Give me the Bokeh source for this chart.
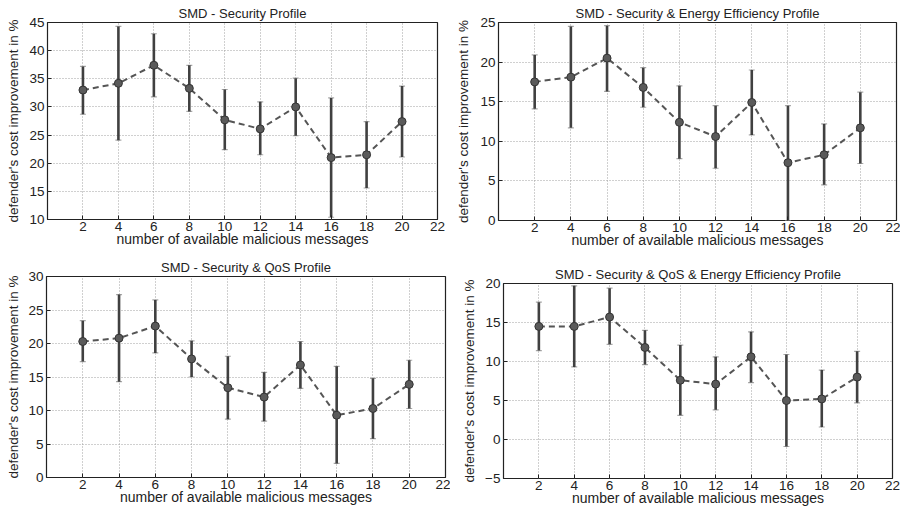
from bokeh.plotting import figure
from bokeh.layouts import column, row
from bokeh.models import Range1d, ColumnDataSource, Whisker, TeeHead, FixedTicker
from bokeh.embed import file_html
from bokeh.resources import INLINE

# ---- data ----
messages = [2, 4, 6, 8, 10, 12, 14, 16, 18, 20]
x_ticks = [2, 4, 6, 8, 10, 12, 14, 16, 18, 20, 22]

titles = ["SMD - Security Profile",
          "SMD - Security & Energy Efficiency Profile",
          "SMD - Security & QoS Profile",
          "SMD - Security & QoS & Energy Efficiency Profile"]

sec_mean = [33.0, 34.2, 37.4, 33.3, 27.7, 26.1, 30.0, 21.0, 21.5, 27.4]
sec_low = [28.7, 24.1, 31.8, 29.2, 22.4, 21.5, 24.9, 10.4, 15.6, 21.1]
sec_high = [37.2, 44.3, 43.0, 37.4, 33.1, 30.9, 35.1, 31.6, 27.4, 33.7]

se_mean = [17.5, 18.1, 20.5, 16.8, 12.4, 10.6, 14.9, 7.3, 8.3, 11.7]
se_low = [14.1, 11.7, 16.3, 14.3, 7.8, 6.6, 10.8, 0.0, 4.5, 7.2]
se_high = [20.9, 24.5, 24.6, 19.3, 17.0, 14.5, 19.0, 14.5, 12.2, 16.2]

sq_mean = [20.3, 20.8, 22.6, 17.7, 13.4, 12.0, 16.8, 9.3, 10.3, 13.9]
sq_low = [17.3, 14.3, 18.6, 15.0, 8.7, 8.4, 13.3, 2.1, 5.8, 10.3]
sq_high = [23.4, 27.3, 26.5, 20.4, 18.1, 15.7, 20.3, 16.6, 14.8, 17.5]

sqe_mean = [14.5, 14.5, 15.7, 11.8, 7.6, 7.1, 10.6, 5.0, 5.2, 8.0]
sqe_low = [11.4, 9.3, 12.2, 9.6, 3.1, 3.8, 7.3, -0.9, 1.6, 4.7]
sqe_high = [17.6, 19.7, 19.4, 14.0, 12.1, 10.6, 13.8, 10.9, 8.9, 11.3]

y_limits = [(10, 45), (0, 25), (0, 30), (-5, 20)]
y_steps = [5, 5, 5, 5]

FONT = "Liberation Sans"


def panel(title, mean, low, high, ylim, ystep, w, h, bl, bb, bt, br, ystand):
    p = figure(width=w, height=h, output_backend="svg", toolbar_location=None,
               x_range=Range1d(0, 22), y_range=Range1d(*ylim),
               min_border_left=bl, min_border_bottom=bb, min_border_top=bt,
               min_border_right=br)
    p.title.text = title
    p.title.align = "center"
    p.title.text_font = FONT
    p.title.text_font_size = "13px"
    p.title.text_font_style = "normal"
    p.title.text_color = "#222222"
    p.title.standoff = 4
    p.title.offset = 0
    p.background_fill_color = "white"
    p.border_fill_color = "white"
    p.outline_line_color = "#222222"
    p.outline_line_width = 1.2

    yt = list(range(ylim[0], ylim[1] + 1, ystep))
    p.xaxis.ticker = FixedTicker(ticks=x_ticks)
    p.yaxis.ticker = FixedTicker(ticks=yt)
    for ax in (p.xaxis[0], p.yaxis[0]):
        ax.axis_line_color = None
        ax.major_tick_in = 4
        ax.major_tick_out = 0
        ax.major_tick_line_color = "#222222"
        ax.minor_tick_line_color = None
        ax.major_label_text_font = FONT
        ax.major_label_text_font_size = "13.5px"
        ax.major_label_text_color = "#222222"
        ax.axis_label_text_font = FONT
        ax.axis_label_text_font_style = "normal"
        ax.axis_label_text_color = "#222222"
    p.xaxis.major_label_standoff = 2
    p.xaxis.axis_label_standoff = -3
    p.yaxis.major_label_standoff = 3
    p.yaxis.axis_label_standoff = ystand
    p.xaxis.axis_label_text_font_size = "14px"
    p.yaxis.axis_label_text_font_size = "13.5px"
    p.xaxis.axis_label = "number of available malicious messages"
    p.yaxis.axis_label = "defender's cost improvement in %"

    for g in (p.xgrid[0], p.ygrid[0]):
        g.grid_line_color = "#a0a0a0"
        g.grid_line_dash = "1 2"
        g.grid_line_width = 1

    src = ColumnDataSource(dict(x=messages, m=mean, lo=low, hi=high))
    p.segment(x0="x", y0="lo", x1="x", y1="hi", source=src,
              line_color="#404040", line_width=2.6)
    wk = Whisker(base="x", lower="lo", upper="hi", source=src,
                 line_color=None,
                 upper_head=TeeHead(size=6, line_color="#a8a8a8", line_width=1.2),
                 lower_head=TeeHead(size=6, line_color="#a8a8a8", line_width=1.2))
    p.add_layout(wk)
    p.line(x="x", y="m", source=src, line_color="#555555", line_width=2,
           line_dash="6 4")
    p.scatter(x="x", y="m", source=src, size=8, fill_color="#5a5a5a",
              line_color="#333333", line_width=1)
    return p


p1 = panel(titles[0], sec_mean, sec_low, sec_high, y_limits[0], y_steps[0],
           450, 250, 47, 31, 22, 13, 5)
p2 = panel(titles[1], se_mean, se_low, se_high, y_limits[1], y_steps[1],
           450, 250, 48, 26, 22, 4, 6)
p3 = panel(titles[2], sq_mean, sq_low, sq_high, y_limits[2], y_steps[2],
           450, 258, 46, 31, 26, 5, 4)
p4 = panel(titles[3], sqe_mean, sqe_low, sqe_high, y_limits[3], y_steps[3],
           450, 258, 53, 29, 33, 8, 5)

layout = column(row(column(p1), column(p2)), row(column(p3), column(p4)))
open("out.html", "w").write(file_html(layout, INLINE))
